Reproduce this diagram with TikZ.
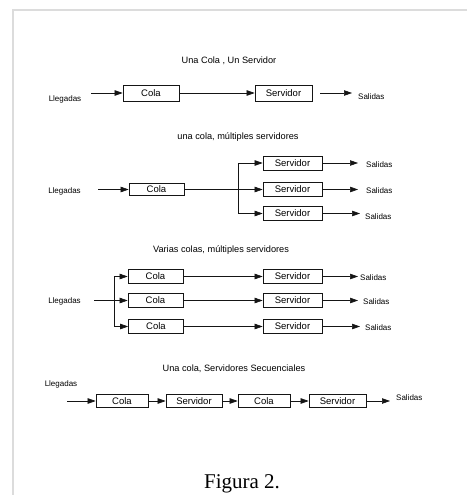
\documentclass[tikz,border=0pt]{standalone}
\usepackage{fontspec}
\setmainfont{Liberation Sans}
\newfontfamily\capfont{Liberation Serif}
\usetikzlibrary{arrows.meta}
\definecolor{frame}{HTML}{DCDCDC}
\definecolor{ink}{HTML}{151515}
\tikzset{box/.style={draw=ink,line width=.7pt,minimum height=14pt,inner sep=0pt,font=\fontsize{9.5}{10}\selectfont},
  cola/.style={box,minimum width=55pt},
  serv/.style={box,minimum width=59pt},
  lbl/.style={font=\fontsize{8}{9}\selectfont,inner sep=0pt},
  ttl/.style={font=\fontsize{9.2}{11}\selectfont},
  wire/.style={draw=ink,line width=.6pt},
  flow/.style={wire,-{Triangle[length=8pt,width=5.5pt]}}}

\begin{document}
\begin{tikzpicture}[x=1pt,y=-1pt]
\useasboundingbox (0,0) rectangle (467,495);
\draw[frame,line width=1.5pt] (13,495) -- (13,10) -- (467,10);
% una cola, un servidor
\node[ttl] (t1) at (229,61) {Una Cola , Un Servidor};
\node[lbl] (ll1) at (65,99) {Llegadas};
\coordinate (in1) at (91,93);
\node[cola,minimum width=56pt,minimum height=16pt] (c1) at (151,93) {Cola};
\node[serv,minimum width=57pt,minimum height=16pt] (s1) at (283.5,93) {Servidor};
\coordinate (o1a) at (320,93);
\coordinate (o1b) at (352,93);
\node[lbl,anchor=west] (sal1) at (358,97) {Salidas};
\draw[flow] (in1) -- (c1);
\draw[flow] (c1) -- (s1);
\draw[flow] (o1a) -- (o1b);
% una cola, varios servidores
\node[ttl] (t2) at (238,137) {una cola, múltiples servidores};
\node[lbl] (ll2) at (64.5,191) {Llegadas};
\coordinate (in2) at (98,189.5);
\node[cola,minimum height=12pt] (c2) at (156.5,189.5) {Cola};
\coordinate (b2) at (238,189.5);
\coordinate (b2t) at (238,163);
\coordinate (b2b) at (238,213.5);
\node[serv] (s21) at (292.5,163) {Servidor};
\node[serv] (s22) at (292.5,189.5) {Servidor};
\node[serv] (s23) at (292.5,213.5) {Servidor};
\coordinate (o21) at (358,163);
\coordinate (o22) at (358,189.5);
\coordinate (o23) at (360,213.5);
\node[lbl,anchor=west] (sal21) at (366,164.5) {Salidas};
\node[lbl,anchor=west] (sal22) at (366,191) {Salidas};
\node[lbl,anchor=west] (sal23) at (365,216.5) {Salidas};
\draw[flow] (in2) -- (c2);
\draw[wire] (c2) -- (b2);
\draw[wire] (b2t) -- (b2b);
\draw[flow] (b2t) -- (s21);
\draw[flow] (b2) -- (s22);
\draw[flow] (b2b) -- (s23);
\draw[flow] (s21) -- (o21);
\draw[flow] (s22) -- (o22);
\draw[flow] (s23) -- (o23);
% varias colas
\node[ttl] (t3) at (221,250) {Varias colas, múltiples servidores};
\node[lbl] (ll3) at (64.5,301) {Llegadas};
\coordinate (in3) at (94,300.5);
\coordinate (j3t) at (114,276.5);
\coordinate (j3b) at (114,326.5);
\node[cola] (c31) at (155.5,276.5) {Cola};
\node[cola] (c32) at (155.5,300.5) {Cola};
\node[cola] (c33) at (156,326.5) {Cola};
\node[serv] (s31) at (292.5,276.5) {Servidor};
\node[serv] (s32) at (292.5,300.5) {Servidor};
\node[serv] (s33) at (292.5,326.5) {Servidor};
\coordinate (o31) at (358,276.5);
\coordinate (o32) at (358,300.5);
\coordinate (o33) at (360,326.5);
\node[lbl,anchor=west] (sal31) at (360,277.5) {Salidas};
\node[lbl,anchor=west] (sal32) at (363,301.5) {Salidas};
\node[lbl,anchor=west] (sal33) at (365,327.5) {Salidas};
\draw[wire] (j3t) -- (j3b);
\draw[flow] (in3) -- (c32);
\draw[flow] (j3t) -- (c31);
\draw[flow] (j3b) -- (c33);
\draw[flow] (c31) -- (s31);
\draw[flow] (c32) -- (s32);
\draw[flow] (c33) -- (s33);
\draw[flow] (s31) -- (o31);
\draw[flow] (s32) -- (o32);
\draw[flow] (s33) -- (o33);
% servidores secuenciales
\node[ttl] (t4) at (234,369) {Una cola, Servidores Secuenciales};
\node[lbl] (ll4) at (61,384) {Llegadas};
\coordinate (in4) at (67,401);
\node[cola,minimum width=52pt,minimum height=13pt] (q1) at (122,401) {Cola};
\node[serv,minimum width=56pt,minimum height=13pt] (p1) at (194,401) {Servidor};
\node[cola,minimum width=52pt,minimum height=13pt] (q2) at (264,401) {Cola};
\node[serv,minimum width=57pt,minimum height=13pt] (p2) at (337.5,401) {Servidor};
\coordinate (o4) at (390,401);
\node[lbl,anchor=west] (sal4) at (396,398) {Salidas};
\draw[flow] (in4) -- (q1);
\draw[flow] (q1) -- (p1);
\draw[flow] (p1) -- (q2);
\draw[flow] (q2) -- (p2);
\draw[flow] (p2) -- (o4);
\node[font=\capfont\fontsize{21}{24}\selectfont,anchor=base] (fig) at (242,488) {Figura 2.};
\end{tikzpicture}
\end{document}
